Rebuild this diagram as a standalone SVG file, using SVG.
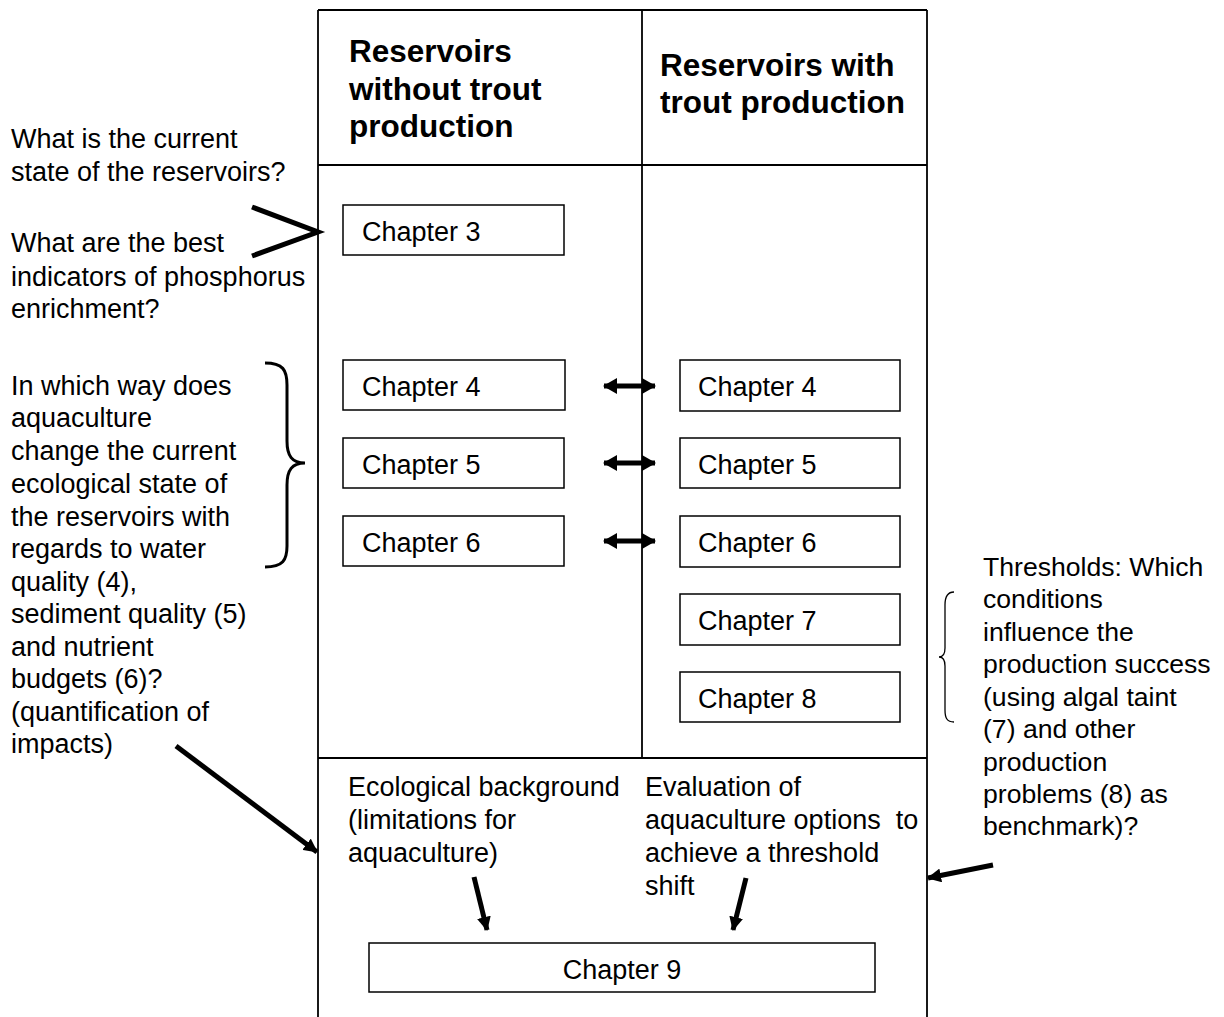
<svg xmlns="http://www.w3.org/2000/svg" width="1224" height="1017" viewBox="0 0 1224 1017">
<style>
  text { font-family: "Liberation Sans", Arial, Helvetica, sans-serif; fill: #000; }
  .h { font-size: 31.5px; font-weight: bold; }
  .t { font-size: 27px; }
  .r { font-size: 26.6px; }
  .box { fill: #fff; stroke: #000; stroke-width: 1.5; }
  .frame { fill: none; stroke: #000; stroke-width: 1.8; }
  .thick { fill: none; stroke: #000; stroke-width: 5; stroke-linecap: butt; }
  .brace { fill: none; stroke: #000; }
</style>
<defs>
  <marker id="ah" viewBox="0 0 14 14" refX="13" refY="7" markerWidth="14" markerHeight="14" markerUnits="userSpaceOnUse" orient="auto">
    <path d="M0,0 L14,7 L0,14 z" fill="#000"/>
  </marker>
  <marker id="dh" viewBox="0 0 14 16" refX="13" refY="8" markerWidth="14" markerHeight="16" markerUnits="userSpaceOnUse" orient="auto-start-reverse">
    <path d="M0,0 L14,8 L0,16 z" fill="#000"/>
  </marker>
</defs>

<g id="frame">
  <line class="frame" x1="318" y1="10" x2="927" y2="10"/>
  <line class="frame" x1="318" y1="10" x2="318" y2="1017"/>
  <line class="frame" x1="927" y1="10" x2="927" y2="1017"/>
  <line class="frame" x1="642" y1="10" x2="642" y2="758"/>
  <line class="frame" x1="318" y1="165" x2="927" y2="165"/>
  <line class="frame" x1="318" y1="758" x2="927" y2="758"/>
</g>

<g id="header-left">
  <text class="h" x="349" y="62">Reservoirs</text>
  <text class="h" x="349" y="100">without trout</text>
  <text class="h" x="349" y="137">production</text>
</g>
<g id="header-right">
  <text class="h" x="660" y="76">Reservoirs with</text>
  <text class="h" x="660" y="113">trout production</text>
</g>

<g id="q-state">
  <text class="t" x="11" y="148">What is the current</text>
  <text class="t" x="11" y="181">state of the reservoirs?</text>
</g>
<g id="q-indicators">
  <text class="t" x="11" y="252">What are the best</text>
  <text class="t" x="11" y="286">indicators of phosphorus</text>
  <text class="t" x="11" y="318">enrichment?</text>
</g>
<g id="q-aquaculture">
  <text class="t" x="11" y="395">In which way does</text>
  <text class="t" x="11" y="427">aquaculture</text>
  <text class="t" x="11" y="460">change the current</text>
  <text class="t" x="11" y="493">ecological state of</text>
  <text class="t" x="11" y="526">the reservoirs with</text>
  <text class="t" x="11" y="558">regards to water</text>
  <text class="t" x="11" y="591">quality (4),</text>
  <text class="t" x="11" y="623">sediment quality (5)</text>
  <text class="t" x="11" y="656">and nutrient</text>
  <text class="t" x="11" y="688">budgets (6)?</text>
  <text class="t" x="11" y="721">(quantification of</text>
  <text class="t" x="11" y="753">impacts)</text>
</g>
<g id="q-thresholds">
  <text class="r" x="983" y="576">Thresholds: Which</text>
  <text class="r" x="983" y="608">conditions</text>
  <text class="r" x="983" y="641">influence the</text>
  <text class="r" x="983" y="673">production success</text>
  <text class="r" x="983" y="706">(using algal taint</text>
  <text class="r" x="983" y="738">(7) and other</text>
  <text class="r" x="983" y="771">production</text>
  <text class="r" x="983" y="803">problems (8) as</text>
  <text class="r" x="983" y="835">benchmark)?</text>
</g>

<g id="ch3-left"><rect class="box" x="343" y="205" width="221" height="50"/><text class="t" x="362" y="241">Chapter 3</text></g>
<g id="ch4-left"><rect class="box" x="343" y="360" width="222" height="50"/><text class="t" x="362" y="396">Chapter 4</text></g>
<g id="ch5-left"><rect class="box" x="343" y="438" width="221" height="50"/><text class="t" x="362" y="474">Chapter 5</text></g>
<g id="ch6-left"><rect class="box" x="343" y="516" width="221" height="50"/><text class="t" x="362" y="552">Chapter 6</text></g>
<g id="ch4-right"><rect class="box" x="680" y="360" width="220" height="51"/><text class="t" x="698" y="396">Chapter 4</text></g>
<g id="ch5-right"><rect class="box" x="680" y="438" width="220" height="50"/><text class="t" x="698" y="474">Chapter 5</text></g>
<g id="ch6-right"><rect class="box" x="680" y="516" width="220" height="51"/><text class="t" x="698" y="552">Chapter 6</text></g>
<g id="ch7-right"><rect class="box" x="680" y="594" width="220" height="51"/><text class="t" x="698" y="630">Chapter 7</text></g>
<g id="ch8-right"><rect class="box" x="680" y="672" width="220" height="50"/><text class="t" x="698" y="708">Chapter 8</text></g>

<g id="ecological-background">
  <text class="t" x="348" y="796">Ecological background</text>
  <text class="t" x="348" y="829">(limitations for</text>
  <text class="t" x="348" y="862">aquaculture)</text>
</g>
<g id="evaluation">
  <text class="t" x="645" y="796">Evaluation of</text>
  <text class="t" x="645" y="829">aquaculture options&#160; to</text>
  <text class="t" x="645" y="862">achieve a threshold</text>
  <text class="t" x="645" y="895">shift</text>
</g>

<g id="ch9"><rect class="box" x="369" y="943" width="506" height="49"/><text class="t" x="622" y="979" text-anchor="middle">Chapter 9</text></g>

<g id="connectors">
  <path class="thick" d="M252,207 L318,232 L252,256"/>
  <path class="brace" stroke-width="3" d="M265,363 C283,363 287,370 287,385 L287,441 C287,456 292,463 305,463 C292,463 287,470 287,485 L287,546 C287,560 283,567 265,567"/>
  <path class="brace" stroke-width="1.3" d="M954,592 C947,592 945,597 945,605 L945,648 C945,654 943,657 939,657 C943,657 945,660 945,666 L945,710 C945,718 947,722 954,722"/>
  <line class="thick" stroke-width="4" x1="604" y1="386" x2="655" y2="386" marker-start="url(#dh)" marker-end="url(#dh)"/>
  <line class="thick" stroke-width="4" x1="604" y1="463" x2="655" y2="463" marker-start="url(#dh)" marker-end="url(#dh)"/>
  <line class="thick" stroke-width="4" x1="604" y1="541" x2="655" y2="541" marker-start="url(#dh)" marker-end="url(#dh)"/>
  <line class="thick" x1="176" y1="746" x2="317" y2="852" marker-end="url(#ah)"/>
  <line class="thick" x1="993" y1="865" x2="928" y2="878" marker-end="url(#ah)"/>
  <line class="thick" x1="474" y1="877" x2="487" y2="930" marker-end="url(#ah)"/>
  <line class="thick" x1="746" y1="878" x2="733" y2="930" marker-end="url(#ah)"/>
</g>
</svg>
